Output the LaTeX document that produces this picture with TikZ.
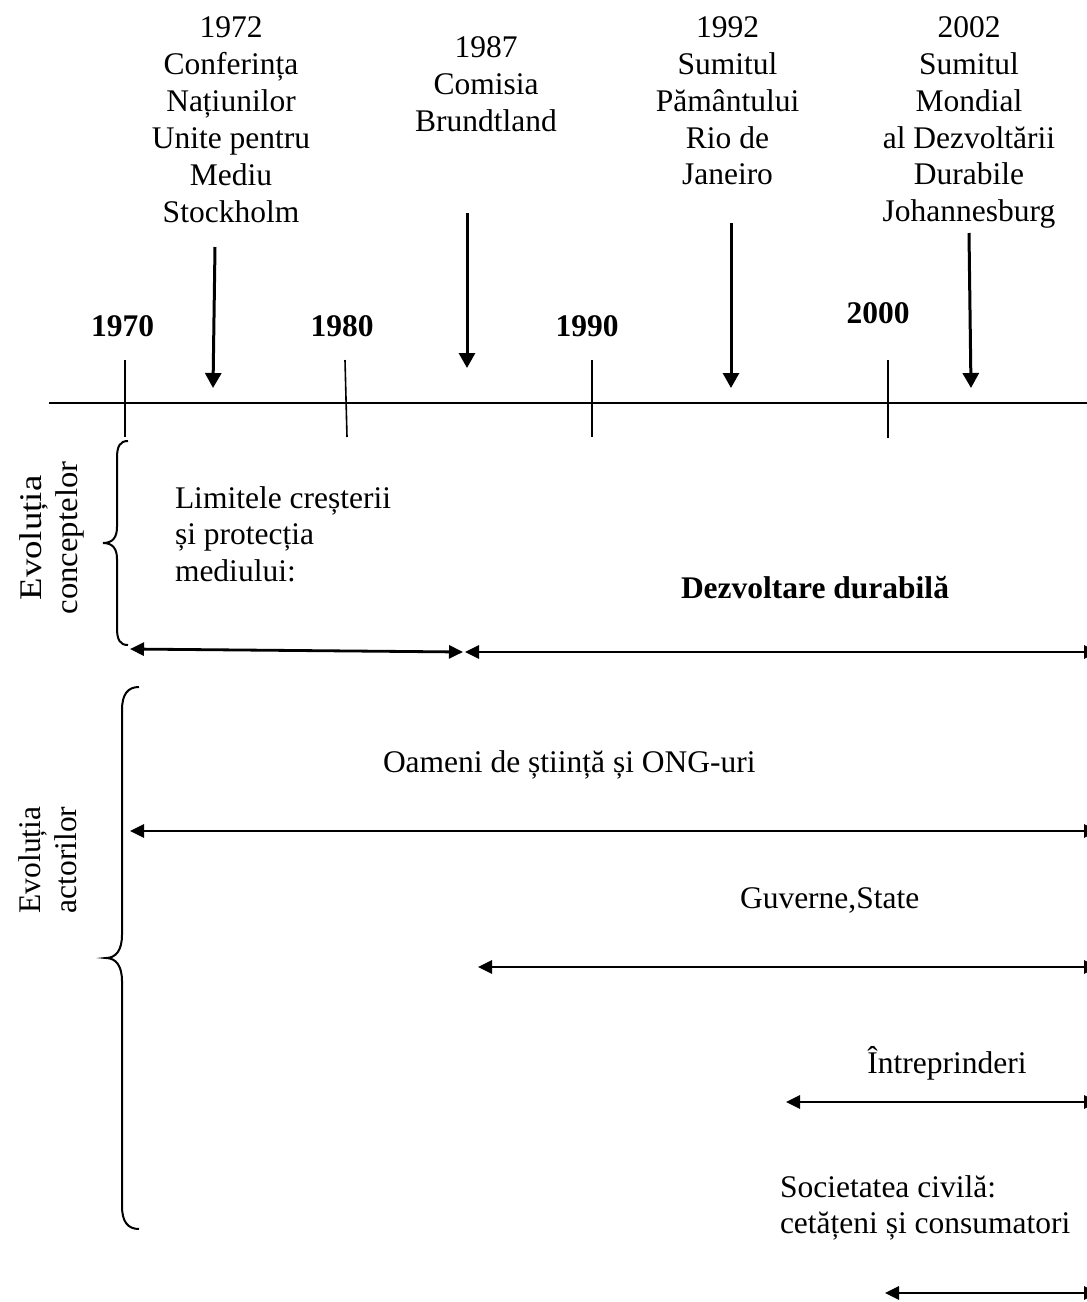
\documentclass[tikz,border=0pt]{standalone}
\usepackage{fontspec}
\usepackage{graphicx}
\setmainfont{Liberation Serif}
\usetikzlibrary{arrows.meta}
\begin{document}
\begin{tikzpicture}[x=1pt,y=-1pt,
  lbl/.style={font=\fontsize{31.5}{36.9}\selectfont, inner sep=0pt, outer sep=0pt},
  yr/.style={lbl, font=\fontsize{31.5}{36.9}\selectfont\bfseries, anchor=base},
  axisline/.style={line width=2pt},
  tickline/.style={line width=1.6pt},
  evarrow/.style={line width=3pt, -{Triangle[length=15pt,width=16pt]}},
  spanarrow/.style={line width=2.8pt, {Triangle[length=14pt,width=13pt]}-{Triangle[length=14pt,width=13pt]}},
  bracepath/.style={line width=2pt}
]
\useasboundingbox (0,0) rectangle (1087,1302);
\clip (0,0) rectangle (1087,1302);

% --- event labels (top) ---
\node[lbl, anchor=base] (e1972) at (231,37.7) {\begin{tabular}[t]{@{}c@{}}1972\\Conferința\\Națiunilor\\Unite pentru\\Mediu\\Stockholm\end{tabular}};
\node[lbl, anchor=base] (e1987) at (486,57.3) {\begin{tabular}[t]{@{}c@{}}1987\\Comisia\\Brundtland\end{tabular}};
\node[lbl, anchor=base] (e1992) at (727.5,37.3) {\begin{tabular}[t]{@{}c@{}}1992\\Sumitul\\Pământului\\Rio de\\Janeiro\end{tabular}};
\node[lbl, anchor=base] (e2002) at (969,37.3) {\begin{tabular}[t]{@{}c@{}}2002\\Sumitul\\Mondial\\al Dezvoltării\\Durabile\\Johannesburg\end{tabular}};

% --- event arrows ---
\coordinate (a72s) at (215,247);  \coordinate (a72e) at (213,388);
\coordinate (a87s) at (467,213);  \coordinate (a87e) at (467,368);
\coordinate (a92s) at (731,223);  \coordinate (a92e) at (731,388);
\coordinate (a02s) at (969,233);  \coordinate (a02e) at (971,388);
\draw[evarrow] (a72s) -- (a72e);
\draw[evarrow] (a87s) -- (a87e);
\draw[evarrow] (a92s) -- (a92e);
\draw[evarrow] (a02s) -- (a02e);

% --- decade labels ---
\node[yr] (y1970) at (122.5,336) {1970};
\node[yr] (y1980) at (342,336) {1980};
\node[yr] (y1990) at (587,336) {1990};
\node[yr] (y2000) at (878,323) {2000};

% --- axis and ticks ---
\coordinate (axL) at (49,403); \coordinate (axR) at (1095,403);
\draw[axisline] (axL) -- (axR);
\coordinate (t70a) at (125,360); \coordinate (t70b) at (125,437);
\coordinate (t80a) at (345,360); \coordinate (t80b) at (347,437);
\coordinate (t90a) at (592,360); \coordinate (t90b) at (592,437);
\coordinate (t00a) at (888,360); \coordinate (t00b) at (888,438);
\draw[tickline] (t70a) -- (t70b);
\draw[tickline] (t80a) -- (t80b);
\draw[tickline] (t90a) -- (t90b);
\draw[tickline] (t00a) -- (t00b);

% --- braces ---
\draw[bracepath] (128,441) .. controls (120,441) and (117,446) .. (117,458)
  -- (117,527) .. controls (117,537) and (113,543) .. (103,543)
  .. controls (113,543) and (117,549) .. (117,559)
  -- (117,628) .. controls (117,640) and (120,645) .. (128,645);
\draw[bracepath] (139,687) .. controls (128,687) and (122,694) .. (122,710)
  -- (122,935) .. controls (122,950) and (116,958) .. (106,958)
  .. controls (116,958) and (122,966) .. (122,981)
  -- (122,1206) .. controls (122,1222) and (128,1229) .. (139,1229);

% --- side labels ---
\node[lbl, rotate=90, anchor=base] (evc) at (41,538) {\begin{tabular}[t]{@{}c@{}}\scalebox{1.17}[1]{Evoluția}\\\scalebox{1.04}[1]{conceptelor}\end{tabular}};
\node[lbl, rotate=90, anchor=base] (eva) at (40,860) {\begin{tabular}[t]{@{}c@{}}Evoluția\\actorilor\end{tabular}};

% --- concepts ---
\node[lbl, anchor=base west] (lim) at (175,508) {\begin{tabular}[t]{@{}l@{}}Limitele creșterii\\și protecția\\mediului:\end{tabular}};
\node[lbl, anchor=base, font=\fontsize{31.5}{36.9}\selectfont\bfseries] (dd) at (815,598) {Dezvoltare durabilă};
\coordinate (c1a) at (130,649); \coordinate (c1b) at (463,652);
\coordinate (c2a) at (465,652); \coordinate (c2b) at (1098,652);
\draw[spanarrow] (c1a) -- (c1b);
\draw[spanarrow] (c2a) -- (c2b);

% --- actors ---
\node[lbl, anchor=base west] (ong) at (383,772) {Oameni de știință și ONG-uri};
\coordinate (o1) at (130,831); \coordinate (o2) at (1098,831);
\draw[spanarrow] (o1) -- (o2);
\node[lbl, anchor=base west] (gov) at (740,908) {Guverne,State};
\coordinate (g1) at (478,967); \coordinate (g2) at (1098,967);
\draw[spanarrow] (g1) -- (g2);
\node[lbl, anchor=base] (intr) at (947,1073) {Întreprinderi};
\coordinate (i1) at (786,1102); \coordinate (i2) at (1098,1102);
\draw[spanarrow] (i1) -- (i2);
\node[lbl, anchor=base west] (soc) at (780,1197) {\begin{tabular}[t]{@{}l@{}}Societatea civilă:\\cetățeni și consumatori\end{tabular}};
\coordinate (s1) at (885,1293); \coordinate (s2) at (1098,1293);
\draw[spanarrow] (s1) -- (s2);
\end{tikzpicture}
\end{document}
